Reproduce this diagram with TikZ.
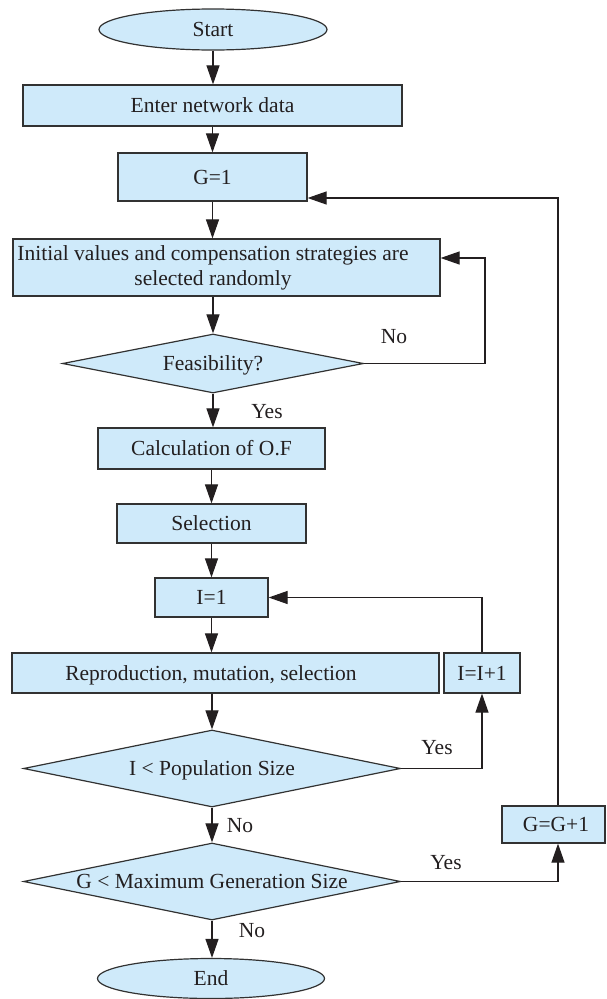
\documentclass[tikz,border=0pt]{standalone}
\usepackage{fontspec}
\setmainfont{Liberation Serif}
\usetikzlibrary{shapes.geometric,arrows.meta}
\definecolor{boxfill}{RGB}{207,234,250}
\definecolor{edgecol}{RGB}{50,50,50}
\definecolor{ink}{RGB}{35,31,32}
\begin{document}
\begin{tikzpicture}[x=1pt,y=-1pt,
  font=\fontsize{21.5}{25}\selectfont,
  base/.style={draw=edgecol, line width=1.2pt, fill=boxfill, inner sep=0pt, text=ink},
  oneline/.style={text height=14.2pt, text depth=0pt},
  procbox/.style={base, rectangle},
  termbox/.style={base, ellipse, oneline},
  decbox/.style={base, diamond, oneline},
  arr/.style={draw=ink, line width=1.1pt, -{Triangle[length=19pt,width=13pt]}},
  lbl/.style={inner sep=0pt, text=ink, oneline}]
\useasboundingbox (0,0) rectangle (606,999);

% nodes
\node[termbox, minimum width=228pt, minimum height=41pt] (start) at (213,29.5) {Start};
\node[procbox, oneline, minimum width=379pt, minimum height=41pt] (enter) at (212.5,105.5) {Enter network data};
\node[procbox, oneline, minimum width=189pt, minimum height=48pt] (g1) at (212.5,177) {G=1};
\node[procbox, minimum width=427pt, minimum height=57pt] (init) at (226.5,267.5)
  {\hspace*{-13.5pt}\makebox[0pt]{\begin{tabular}{@{}c@{}}Initial values and compensation strategies are\\selected randomly\end{tabular}}\hspace*{13.5pt}};
\node[decbox, minimum width=301pt, minimum height=59pt] (feas) at (213,363.5) {\makebox[0pt]{Feasibility?}};
\node[procbox, oneline, minimum width=227pt, minimum height=41pt] (calc) at (211.5,448.5) {Calculation of O.F};
\node[procbox, oneline, minimum width=189pt, minimum height=39pt] (sel) at (211.5,523.5) {Selection};
\node[procbox, oneline, minimum width=113pt, minimum height=39pt] (i1) at (211.5,597.5) {I=1};
\node[procbox, oneline, minimum width=427pt, minimum height=40pt] (rep) at (225.5,673)
  {\hspace*{-14.5pt}\makebox[0pt]{Reproduction, mutation, selection}\hspace*{14.5pt}};
\node[procbox, oneline, minimum width=76pt, minimum height=40pt] (ii) at (482,673) {I=I+1};
\node[decbox, minimum width=377pt, minimum height=77pt] (d1) at (212,768.5) {\makebox[0pt]{I < Population Size}};
\node[decbox, minimum width=377pt, minimum height=77pt] (d2) at (212,881.5) {\makebox[0pt]{G < Maximum Generation Size}};
\node[procbox, oneline, minimum width=103pt, minimum height=37pt] (gg) at (553.5,824.5)
  {\hspace*{2.5pt}\makebox[0pt]{G=G+1}\hspace*{-2.5pt}};
\node[termbox, minimum width=227pt, minimum height=40pt] (endn) at (211,978.5) {End};

% labels
\node[lbl] (no1) at (394,336) {No};
\node[lbl] (yes1) at (267,411) {Yes};
\node[lbl] (yes2) at (437,747) {Yes};
\node[lbl] (no2) at (240,825) {No};
\node[lbl] (yes3) at (446,862) {Yes};
\node[lbl] (no3) at (252,930) {No};

% main flow
\draw[arr] (start.south) -- (start.south |- enter.north);
\draw[arr] (enter.south) -- (g1.north);
\draw[arr] (g1.south) -- (g1.south |- init.north);
\draw[arr] (init.south -| feas.north) -- (feas.north);
\draw[arr] (feas.south) -- (feas.south |- calc.north);
\draw[arr] (calc.south) -- (sel.north);
\draw[arr] (sel.south) -- (i1.north);
\draw[arr] (i1.south) -- (i1.south |- rep.north);
\draw[arr] (rep.south -| d1.north) -- (d1.north);
\draw[arr] (d1.south) -- (d2.north);
\draw[arr] (d2.south) -- (d2.south |- endn.north);

% feasibility loop
\coordinate (fb) at (485,258);
\draw[arr] (feas.east) -| (fb) -- ([yshift=9.5pt]init.east);

% I loop
\draw[arr] (d1.east) -| (ii.south);
\draw[arr] (ii.north) |- (i1.east);

% G loop
\draw[arr] (d2.east) -| ([xshift=4.5pt]gg.south);
\draw[arr] ([xshift=4.5pt]gg.north) |- ([yshift=-21pt]g1.east);
\end{tikzpicture}
\end{document}
